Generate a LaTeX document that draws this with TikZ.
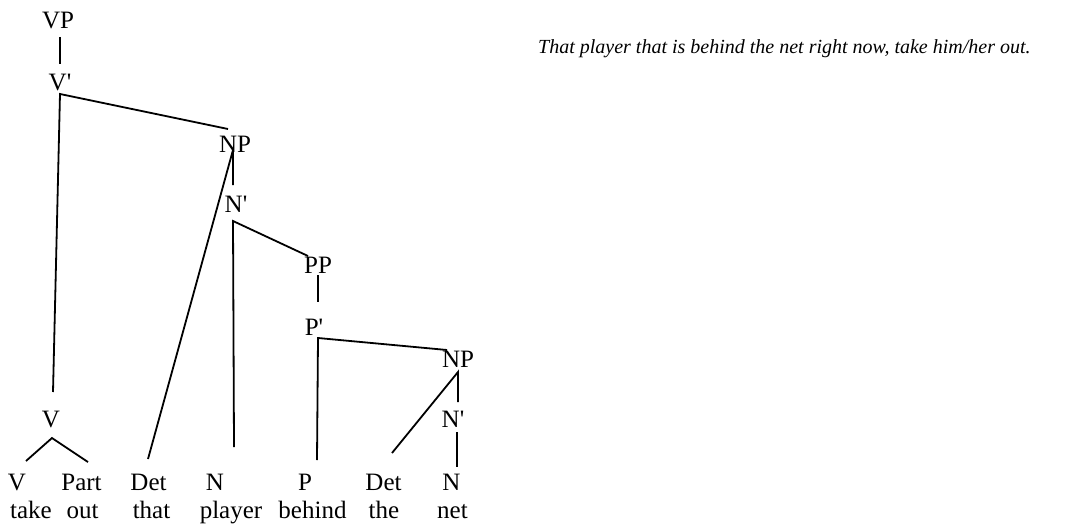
\documentclass[tikz,border=0pt]{standalone}
\usepackage{fontspec}
\setmainfont{LiberationSerif}[Extension=.ttf,UprightFont=*-Regular,ItalicFont=*-Italic,BoldFont=*-Bold,BoldItalicFont=*-BoldItalic]
\newcommand{\pr}{\textquotesingle}
\begin{document}
\begin{tikzpicture}[x=1pt,y=-1pt,
  lab/.style={anchor=base,inner sep=0pt,font=\fontsize{25}{30}\selectfont},
  edge/.style={line width=1.8pt}]
\useasboundingbox (0,0) rectangle (1065,527);
% tree labels
\node[lab] (vp) at (58,29) {VP};
\node[lab] (vbar) at (60,90) {V\pr};
\node[lab] (np1) at (235,152) {NP};
\node[lab] (nbar1) at (236,212) {N\pr};
\node[lab] (pp) at (318,273) {PP};
\node[lab] (pbar) at (314,335) {P\pr};
\node[lab] (np2) at (458,367) {NP};
\node[lab] (nbar2) at (453,427) {N\pr};
\node[lab] (v1) at (51,427) {V};
% bottom row
\node[lab] (tv) at (17,490) {V};
\node[lab] (tpart) at (81.5,490) {Part};
\node[lab] (tdet1) at (148.5,490) {Det};
\node[lab] (tn1) at (215,490) {N};
\node[lab] (tp) at (305,490) {P};
\node[lab] (tdet2) at (383.5,490) {Det};
\node[lab] (tn2) at (451.5,490) {N};
\node[lab] (wtake) at (31,518) {take};
\node[lab] (wout) at (82.5,518) {out};
\node[lab] (wthat) at (151.5,518) {that};
\node[lab] (wplayer) at (231,518) {player};
\node[lab] (wbehind) at (312.5,518) {behind};
\node[lab] (wthe) at (384,518) {the};
\node[lab] (wnet) at (452.5,518) {net};
% sentence
\node[anchor=base west,inner sep=0pt,font=\fontsize{20}{24}\selectfont\itshape] (sent) at (538,54)
  {That player that is behind the net right now, take him/her out.};
% junction coordinates
\coordinate (vpB) at (60,37);
\coordinate (vbarT) at (60,64);
\coordinate (vbarB) at (60,94);
\coordinate (np1T) at (228,129);
\coordinate (np1B) at (233,150);
\coordinate (nbar1T) at (233,185);
\coordinate (nbar1B) at (233,221);
\coordinate (ppT) at (308,256);
\coordinate (ppB) at (318,275);
\coordinate (pbarT) at (318,302);
\coordinate (pbarB) at (318,338);
\coordinate (np2T) at (447,350);
\coordinate (np2B) at (458,372);
\coordinate (nbar2T) at (458,402);
\coordinate (nbar2B) at (457,432);
\coordinate (tn2T) at (457,467);
\coordinate (v1T) at (53,392);
\coordinate (v1B) at (52,438);
\coordinate (tvT) at (26,461);
\coordinate (tpartT) at (88,462);
\coordinate (tdet1T) at (148,459);
\coordinate (tn1T) at (234,447);
\coordinate (tpT) at (317,460);
\coordinate (tdet2T) at (392,453);
% connectors
\draw[edge] (vpB) -- (vbarT);
\draw[edge] (np1T) -- (vbarB) -- (v1T);
\draw[edge] (tvT) -- (v1B) -- (tpartT);
\draw[edge] (tdet1T) -- (np1B) -- (nbar1T);
\draw[edge] (ppT) -- (nbar1B) -- (tn1T);
\draw[edge] (ppB) -- (pbarT);
\draw[edge] (np2T) -- (pbarB) -- (tpT);
\draw[edge] (tdet2T) -- (np2B) -- (nbar2T);
\draw[edge] (nbar2B) -- (tn2T);
\end{tikzpicture}
\end{document}
